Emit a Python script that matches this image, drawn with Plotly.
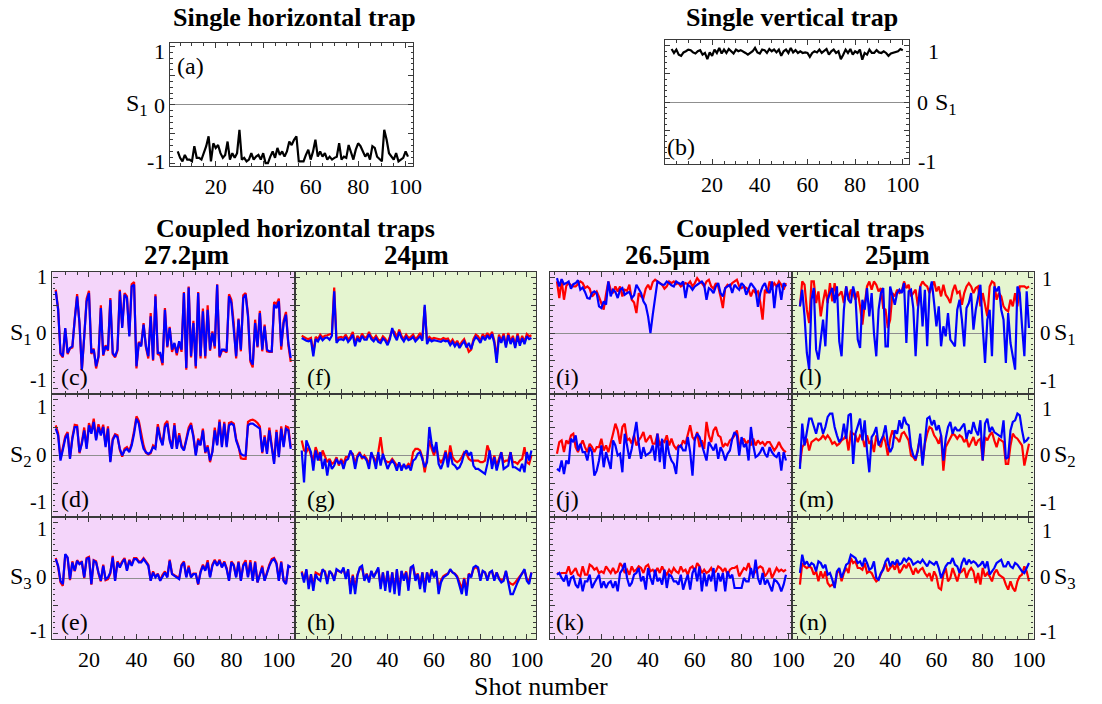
import plotly.graph_objects as go

W, H = 1102, 704
FONT = "Liberation Serif"
FRAME = "#3a3a3a"
PINK = "#F4D5FA"
GREEN = "#E5F5D0"
RED = "#FF0000"
BLUE = "#0000FF"

# ---------------- data (S parameters vs shot number) ----------------
a_S1 = [-0.80,-0.91,-0.97,-0.86,-0.94,-0.94,-0.97,-0.71,-0.91,-0.91,-0.94,-0.83,-0.71,-0.54,-0.97,-0.66,-0.74,-0.69,-0.83,-0.91,
        -0.86,-0.63,-0.94,-0.83,-0.91,-0.83,-0.43,-0.94,-0.91,-0.97,-0.94,-0.83,-0.94,-0.89,-0.86,-0.94,-0.83,-1.00,-1.00,-0.89,
        -0.80,-0.91,-0.74,-0.86,-0.80,-0.89,-0.80,-0.63,-0.69,-0.60,-0.54,-0.97,-0.97,-0.97,-0.86,-0.77,-0.94,-0.80,-0.60,-0.89,
        -0.80,-0.89,-0.83,-0.94,-0.89,-0.94,-0.91,-0.89,-0.66,-0.94,-0.89,-0.91,-0.69,-0.83,-0.94,-0.77,-0.66,-0.71,-0.80,-0.89,
        -0.83,-0.94,-0.71,-0.74,-0.89,-0.94,-0.97,-0.43,-0.60,-0.83,-0.89,-0.94,-0.83,-0.97,-0.94,-0.91,-0.80,-0.89]
b_S1 = [0.94,0.87,0.93,0.84,0.82,0.88,0.90,0.93,0.92,0.88,0.86,0.90,0.92,0.84,0.87,0.76,0.88,0.82,0.93,0.87,
        0.96,0.86,0.93,0.87,0.94,0.90,0.86,0.93,0.90,0.92,0.90,0.87,0.84,0.87,0.90,0.96,0.88,0.86,0.93,0.92,
        0.87,0.94,0.90,0.93,0.88,0.93,0.82,0.90,0.93,0.87,0.96,0.88,0.92,0.87,0.90,0.87,0.88,0.87,0.80,0.87,
        0.90,0.88,0.93,0.87,0.90,0.94,0.84,0.90,0.93,0.87,0.90,0.76,0.84,0.93,0.87,0.94,0.84,0.90,0.87,0.93,
        0.75,0.87,0.84,0.93,0.87,0.87,0.92,0.88,0.87,0.90,0.87,0.82,0.86,0.87,0.88,0.90,0.94,0.92]

# Coupled horizontal traps, 27.2 um
c_red = [0.78,0.44,-0.38,-0.44,0.08,-0.38,-0.28,-0.26,0.26,0.70,0.17,-0.68,-0.07,0.62,0.76,-0.38,-0.28,-0.64,-0.44,0.50,
         -0.41,-0.22,-0.32,0.63,-0.38,-0.44,-0.32,0.78,0.12,0.72,0.66,-0.04,0.88,0.92,-0.64,-0.16,-0.22,0.18,-0.26,-0.46,
         0.36,-0.50,0.70,-0.38,-0.40,-0.58,0.45,-0.26,0.11,-0.34,-0.20,-0.40,-0.17,-0.34,0.74,-0.66,0.84,-0.44,0.22,-0.64,
         0.74,-0.46,0.44,-0.46,0.50,-0.32,0.03,-0.28,0.88,-0.44,-0.32,-0.32,-0.35,0.70,0.60,0.18,-0.46,0.26,-0.33,0.68,
         0.72,0.34,-0.52,-0.62,0.24,-0.26,0.40,-0.33,0.15,-0.33,-0.34,-0.34,0.56,0.52,0.62,-0.30,0.22,0.38,-0.22,-0.52]
c_blue = [0.75,0.42,-0.36,-0.42,0.09,-0.36,-0.27,-0.24,0.24,0.66,0.18,-0.66,-0.06,0.57,0.72,-0.36,-0.30,-0.60,-0.42,0.45,
          -0.39,-0.24,-0.30,0.60,-0.36,-0.42,-0.30,0.75,0.09,0.69,0.63,-0.06,0.84,0.87,-0.60,-0.18,-0.24,0.15,-0.24,-0.42,
          0.30,-0.48,0.66,-0.36,-0.36,-0.54,0.42,-0.24,0.09,-0.30,-0.18,-0.36,-0.15,-0.30,0.72,-0.63,0.82,-0.42,0.18,-0.60,
          0.72,-0.42,0.39,-0.42,0.42,-0.30,0.00,-0.24,0.87,-0.42,-0.30,-0.30,-0.33,0.66,0.54,0.12,-0.42,0.24,-0.30,0.63,
          0.69,0.30,-0.48,-0.57,0.18,-0.24,0.36,-0.30,0.12,-0.30,-0.33,-0.33,0.51,0.45,0.57,-0.24,0.18,0.33,-0.18,-0.45]
d_red = [0.54,0.40,-0.06,0.16,0.34,0.42,-0.04,0.33,0.55,0.54,0.04,0.24,0.50,0.15,0.58,0.42,0.66,0.30,0.56,0.40,
         0.55,0.18,0.52,-0.10,0.30,0.38,0.36,0.10,-0.02,0.12,0.15,0.08,0.22,0.44,0.70,0.62,0.36,0.18,0.05,0.02,
         0.04,0.18,0.14,0.56,0.34,0.20,0.56,0.62,0.30,0.14,0.58,0.15,0.40,0.18,0.10,0.30,0.50,0.58,0.36,0.02,
         0.30,0.20,0.48,0.04,0.18,-0.12,0.08,0.50,0.20,0.64,0.18,0.60,0.18,0.58,0.60,0.57,0.30,0.17,-0.05,-0.06,
         -0.06,0.60,0.63,0.64,0.62,0.58,0.52,0.04,0.36,0.06,0.50,0.18,-0.12,0.46,0.00,0.52,0.18,0.52,0.50,0.15]
d_blue = [0.48,0.36,-0.09,0.12,0.30,0.39,-0.06,0.30,0.51,0.51,0.06,0.21,0.45,0.12,0.54,0.39,0.60,0.27,0.51,0.36,
          0.51,0.15,0.48,-0.12,0.27,0.36,0.33,0.12,0.00,0.09,0.12,0.06,0.18,0.39,0.66,0.57,0.30,0.12,0.06,0.03,
          0.06,0.15,0.12,0.51,0.30,0.18,0.51,0.57,0.27,0.12,0.54,0.12,0.36,0.15,0.09,0.27,0.45,0.54,0.33,0.00,
          0.27,0.18,0.45,0.06,0.15,-0.09,0.06,0.45,0.18,0.60,0.15,0.57,0.15,0.54,0.57,0.54,0.27,0.15,0.03,0.00,
          0.00,0.54,0.57,0.57,0.54,0.51,0.48,0.06,0.33,0.03,0.45,0.15,-0.15,0.42,-0.03,0.48,0.15,0.48,0.45,0.12]
e_red = [0.36,0.20,-0.08,-0.14,0.42,0.36,-0.04,0.30,0.12,0.32,0.26,0.30,0.00,0.36,0.38,-0.12,0.32,0.30,0.08,-0.06,
         0.24,-0.04,-0.02,0.08,0.40,-0.04,0.30,0.22,0.30,0.36,0.15,0.33,0.24,0.36,0.36,0.30,0.30,0.36,0.30,0.24,
         -0.04,0.12,0.02,0.08,-0.04,0.06,0.12,0.02,0.33,0.08,0.05,0.02,0.00,0.24,0.30,0.02,0.22,0.02,0.08,0.08,
         -0.12,0.12,0.24,0.15,0.32,0.02,0.24,0.33,0.24,0.33,0.20,0.30,0.18,-0.04,0.30,0.24,0.02,0.30,-0.04,0.24,
         0.32,0.02,0.32,-0.04,0.30,-0.08,0.08,0.22,-0.04,0.12,0.24,0.34,0.36,0.28,-0.04,0.30,-0.04,-0.10,0.20,0.20]
e_blue = [0.34,0.22,-0.05,-0.11,0.43,0.37,-0.02,0.28,0.13,0.31,0.25,0.28,0.01,0.34,0.37,-0.11,0.31,0.28,0.10,-0.05,
          0.22,-0.02,0.01,0.10,0.37,-0.05,0.28,0.19,0.28,0.34,0.13,0.31,0.22,0.34,0.34,0.28,0.28,0.34,0.28,0.22,
          -0.05,0.10,0.01,0.07,-0.05,0.04,0.10,0.01,0.31,0.07,0.04,0.01,-0.02,0.22,0.28,0.01,0.19,0.01,0.07,0.07,
          -0.11,0.10,0.22,0.13,0.28,0.01,0.22,0.31,0.22,0.31,0.19,0.28,0.16,-0.05,0.28,0.22,0.01,0.28,-0.05,0.22,
          0.28,0.01,0.28,-0.05,0.28,-0.08,0.07,0.19,-0.05,0.10,0.22,0.31,0.34,0.25,-0.05,0.28,-0.05,-0.11,0.22,0.19]

# Coupled horizontal traps, 24 um
f_red = [-0.05,-0.08,-0.10,-0.11,-0.09,-0.36,-0.07,-0.11,-0.03,-0.08,-0.05,-0.04,-0.02,-0.01,0.82,
         -0.14,-0.08,-0.07,-0.09,-0.03,-0.12,-0.07,0.02,-0.20,-0.05,-0.12,-0.01,-0.08,
         -0.08,0.02,-0.07,-0.11,-0.05,-0.12,-0.14,-0.06,-0.10,-0.18,-0.07,0.05,
         0.02,-0.09,0.06,-0.05,-0.11,-0.03,-0.09,-0.07,-0.03,-0.11,-0.07,0.00,-0.10,0.47,
         -0.14,-0.07,-0.11,-0.09,-0.10,-0.11,-0.12,-0.09,-0.11,-0.10,
         -0.18,-0.12,-0.20,-0.14,-0.23,-0.16,-0.11,-0.22,-0.34,-0.30,
         -0.11,-0.03,-0.06,-0.14,-0.02,-0.08,0.00,-0.07,0.02,-0.14,-0.45,
         -0.03,-0.14,-0.01,-0.22,0.00,-0.16,-0.05,-0.23,-0.01,-0.19,-0.05,-0.16,-0.02,-0.06,-0.04]
f_blue = [-0.09,-0.12,-0.14,-0.15,-0.13,-0.42,-0.11,-0.15,-0.07,-0.13,-0.09,-0.08,-0.12,-0.05,0.75,
          -0.18,-0.12,-0.11,-0.13,-0.07,-0.16,-0.11,-0.03,-0.24,-0.09,-0.16,-0.05,-0.12,
          -0.12,-0.02,-0.11,-0.15,-0.09,-0.16,-0.18,-0.10,-0.14,-0.22,-0.11,0.09,
          -0.05,-0.13,0.02,-0.09,-0.15,-0.07,-0.13,-0.11,-0.07,-0.15,-0.11,-0.06,-0.14,0.51,
          -0.20,-0.11,-0.15,-0.13,-0.14,-0.15,-0.16,-0.13,-0.15,-0.14,
          -0.22,-0.16,-0.24,-0.18,-0.27,-0.20,-0.15,-0.26,-0.18,-0.29,
          -0.15,-0.07,-0.11,-0.18,-0.06,-0.13,-0.04,-0.11,-0.02,-0.18,-0.54,
          -0.07,-0.18,-0.05,-0.26,-0.04,-0.20,-0.09,-0.27,-0.05,-0.23,-0.09,-0.20,-0.06,-0.11,-0.09]
g_red = [0.27,0.09,0.06,0.15,0.00,-0.09,0.15,0.03,-0.09,0.09,0.00,-0.12,-0.06,-0.15,-0.12,-0.03,-0.18,-0.06,-0.15,-0.03,
         -0.03,0.06,0.03,-0.15,0.00,0.06,-0.06,0.00,-0.06,-0.15,0.03,-0.03,-0.12,0.06,0.33,0.00,-0.09,-0.12,-0.12,-0.06,
         -0.12,-0.18,-0.15,-0.21,-0.18,-0.21,-0.15,-0.18,0.06,0.12,0.12,0.09,-0.03,-0.30,-0.06,0.27,0.12,0.00,0.15,-0.06,
         -0.12,-0.06,0.09,-0.12,0.18,-0.03,-0.09,-0.12,-0.09,-0.03,0.06,0.03,-0.06,-0.09,-0.09,-0.09,-0.09,-0.12,-0.12,-0.09,
         0.18,0.06,-0.15,0.00,-0.18,-0.06,0.06,-0.12,-0.09,-0.09,0.06,-0.12,-0.12,-0.15,-0.09,-0.06,0.15,-0.12,-0.15,0.00]
g_blue = [0.09,-0.48,0.27,0.18,0.06,-0.27,0.09,-0.09,0.06,-0.24,-0.06,-0.36,-0.09,-0.24,-0.18,-0.06,-0.15,-0.09,-0.24,-0.09,
          -0.06,0.09,0.00,-0.24,-0.03,0.03,-0.03,-0.03,-0.09,-0.24,0.06,-0.06,-0.24,0.06,-0.18,0.03,-0.12,-0.24,-0.15,-0.09,
          -0.15,-0.27,-0.12,-0.27,-0.15,-0.24,-0.18,-0.27,-0.09,-0.06,0.03,0.06,-0.06,-0.21,-0.12,0.51,0.21,0.06,0.24,-0.15,
          -0.24,-0.12,0.06,-0.21,0.06,-0.15,-0.18,-0.24,-0.21,-0.12,0.03,0.09,0.00,0.06,-0.18,-0.24,-0.24,-0.27,-0.30,-0.33,
          -0.15,0.09,-0.24,-0.03,-0.27,-0.12,0.06,-0.24,-0.21,-0.18,0.06,-0.21,-0.21,-0.24,-0.27,-0.15,-0.30,0.06,-0.09,0.09]
h_red = [0.12,-0.04,0.14,-0.12,0.06,-0.14,0.10,0.08,0.05,0.14,0.12,-0.06,0.12,0.08,-0.02,0.14,0.12,0.10,0.16,0.02,
         0.14,-0.20,0.06,-0.18,0.06,0.16,0.18,-0.02,0.08,-0.04,0.12,0.03,0.10,0.16,-0.14,0.10,-0.16,0.12,-0.18,0.10,
         -0.20,0.14,-0.22,0.12,0.00,0.12,-0.14,0.18,0.20,0.02,0.08,-0.12,0.10,-0.18,0.10,-0.02,0.14,0.04,0.12,-0.20,
         -0.04,0.03,0.06,0.08,0.14,0.10,0.08,0.03,-0.08,-0.20,0.00,-0.22,0.08,0.03,0.16,0.20,0.16,-0.02,0.12,0.10,
         -0.02,0.10,0.12,-0.02,0.10,0.00,-0.04,-0.02,0.12,-0.06,-0.10,-0.12,-0.08,-0.02,0.03,0.10,0.14,-0.02,-0.06,0.10]
h_blue = [0.10,-0.08,0.16,-0.20,0.07,-0.23,0.07,-0.02,-0.05,0.16,0.10,-0.11,0.13,0.07,-0.05,0.16,0.13,0.10,0.19,-0.02,
          0.16,-0.29,0.04,-0.29,0.04,0.19,0.22,-0.05,0.07,-0.08,0.13,0.01,0.10,0.19,-0.20,0.10,-0.23,0.13,-0.26,0.10,
          -0.29,0.16,-0.32,0.13,-0.05,0.10,-0.23,0.19,0.22,-0.05,0.07,-0.20,0.10,-0.26,0.10,-0.08,0.16,0.01,0.13,-0.29,
          -0.08,0.01,0.04,0.07,0.16,0.10,0.07,0.01,-0.14,-0.29,-0.02,-0.32,0.07,0.01,0.19,0.22,0.19,-0.05,0.13,0.10,
          -0.05,0.10,0.13,-0.05,0.10,-0.02,-0.08,-0.05,0.13,-0.11,-0.29,-0.29,-0.17,-0.08,0.01,0.10,0.16,-0.05,-0.11,0.10]

# Coupled vertical traps, 26.5 um
i_red = [0.93,0.63,0.96,0.60,0.85,0.90,0.86,0.84,0.84,0.88,0.93,0.90,0.81,0.84,0.80,0.66,0.70,0.75,0.65,0.54,
         0.42,0.70,0.93,0.78,0.72,0.84,0.75,0.84,0.66,0.78,0.76,0.87,0.60,0.55,0.36,0.72,0.66,0.63,0.80,0.87,
         0.78,0.92,0.96,0.93,0.90,0.87,0.80,0.84,0.93,0.90,0.93,0.88,0.90,0.84,0.87,0.90,0.88,0.93,0.84,0.90,
         0.99,0.93,0.90,0.84,0.93,0.96,0.84,0.80,0.90,0.84,0.66,0.45,0.81,0.87,0.84,0.90,0.93,0.96,0.84,0.81,
         0.84,0.81,0.78,0.66,0.78,0.72,0.75,0.55,0.24,0.78,0.72,0.93,0.81,0.90,0.84,0.93,0.87,0.78,0.90]
i_blue = [0.99,0.84,0.97,0.88,0.90,0.93,0.80,0.88,0.90,0.95,0.78,0.82,0.74,0.63,0.62,0.72,0.75,0.72,0.48,0.45,
          0.57,0.51,0.93,0.66,0.78,0.74,0.63,0.78,0.81,0.69,0.72,0.74,0.63,0.68,0.87,0.78,0.72,0.57,0.50,0.30,
          0.00,0.33,0.66,0.93,0.90,0.87,0.87,0.93,0.90,0.86,0.84,0.93,0.90,0.88,0.93,0.63,0.87,0.84,0.78,0.84,
          0.87,0.90,0.93,0.87,0.60,0.81,0.78,0.72,0.84,0.90,0.72,0.66,0.81,0.84,0.87,0.72,0.87,0.82,0.78,0.90,
          0.85,0.69,0.81,0.90,0.84,0.78,0.47,0.72,0.84,0.90,0.76,0.72,0.93,0.45,0.84,0.87,0.60,0.90,0.84]
j_red = [0.03,0.24,0.27,0.06,0.27,0.21,0.36,0.39,0.15,0.06,0.18,0.27,0.15,0.06,0.21,0.15,0.06,0.15,0.15,0.30,
         0.09,0.18,0.06,0.21,0.39,0.57,0.45,0.21,0.51,0.57,0.27,0.30,0.21,0.36,0.18,0.27,0.33,0.42,0.24,0.30,
         0.36,0.21,0.21,0.39,0.18,0.27,0.24,0.36,0.18,0.30,0.18,0.12,0.18,0.15,0.27,0.21,0.36,0.54,0.33,0.27,
         0.42,0.15,0.27,0.12,0.60,0.36,0.24,0.45,0.51,0.36,0.33,0.15,0.21,0.18,0.27,0.30,0.36,0.45,0.18,0.24,
         0.30,0.21,0.27,0.18,0.30,0.18,0.27,0.21,0.24,0.18,0.24,0.24,0.15,0.09,0.15,0.24,0.15,0.09,0.06]
j_blue = [-0.24,-0.27,-0.09,-0.33,-0.09,-0.15,0.30,0.24,0.36,0.09,0.21,0.06,0.06,-0.09,0.15,0.06,-0.36,-0.27,-0.09,0.18,
          -0.21,0.06,-0.09,-0.24,0.27,0.18,0.00,0.03,-0.30,0.39,0.18,-0.06,0.12,0.39,0.60,0.21,-0.06,0.15,0.00,0.03,
          0.06,0.18,-0.09,0.39,-0.12,0.30,-0.24,0.27,0.03,-0.09,-0.15,-0.33,0.15,0.18,0.09,0.09,0.33,0.06,-0.36,0.30,
          0.39,0.33,0.18,0.06,-0.09,0.24,0.15,0.09,0.21,-0.06,0.15,0.06,-0.09,0.03,0.09,0.30,0.42,0.36,0.00,0.33,
          0.15,0.21,-0.09,0.51,0.18,-0.03,0.00,0.06,0.15,0.03,-0.03,0.15,0.06,0.00,-0.03,0.06,-0.27,0.06,-0.09]
k_red = [0.09,0.07,0.09,0.09,0.09,0.21,0.06,0.12,0.18,0.06,0.03,0.21,0.06,0.06,0.24,0.21,0.15,0.18,0.09,0.12,
         0.09,0.21,0.15,0.09,0.18,0.09,0.12,0.27,0.21,0.09,0.15,0.06,0.21,0.12,0.15,0.21,0.18,0.09,0.21,0.24,
         0.12,0.15,0.09,0.18,0.09,0.21,0.12,0.06,0.15,0.09,0.18,0.12,0.09,0.21,0.12,0.15,0.06,0.18,0.21,0.12,
         0.27,0.21,0.09,0.15,0.09,0.12,0.18,0.09,0.12,0.21,0.18,0.12,0.18,0.06,0.15,0.18,0.18,0.21,0.03,0.12,
         0.18,0.15,0.27,0.12,0.06,0.12,0.18,0.21,0.18,0.03,0.09,0.18,0.00,0.09,0.18,0.12,0.15,0.12,0.15]
k_blue = [0.06,0.09,0.00,-0.06,0.06,-0.15,0.00,0.03,-0.12,-0.18,0.00,-0.24,-0.06,-0.06,0.06,-0.18,-0.09,0.00,0.06,-0.18,
          -0.06,-0.18,-0.09,-0.06,-0.18,-0.06,-0.24,0.09,0.15,0.27,0.00,-0.15,-0.09,0.06,0.09,0.18,-0.06,0.03,-0.21,0.18,
          0.00,-0.12,0.15,-0.06,0.00,-0.12,0.15,-0.18,0.06,0.03,-0.06,-0.06,-0.12,0.06,-0.21,-0.06,0.06,-0.21,0.09,0.18,
          -0.06,0.21,-0.24,0.09,-0.15,0.06,-0.06,0.18,-0.24,0.09,-0.06,0.09,-0.24,0.12,0.00,0.06,-0.18,-0.18,-0.18,-0.18,
          0.00,-0.06,-0.06,0.18,0.00,0.33,0.00,-0.12,0.09,-0.12,-0.03,-0.12,-0.24,-0.03,-0.06,-0.12,-0.24,-0.12,0.06]

# Coupled vertical traps, 25 um
l_red = [0.48,0.93,0.87,0.42,0.18,0.93,0.93,0.54,0.75,0.30,0.57,0.78,0.54,0.90,0.57,0.90,0.66,0.69,0.75,0.54,
         0.84,0.60,0.78,0.72,0.60,0.75,0.48,0.15,0.51,0.84,0.93,0.78,0.93,0.87,0.75,0.81,0.45,0.42,0.09,0.24,
         0.72,0.66,0.78,0.72,0.75,0.93,0.81,0.87,0.66,0.72,0.78,0.48,0.84,0.93,0.87,0.84,0.72,0.84,0.93,0.75,
         0.84,0.66,0.87,0.69,0.63,0.54,0.75,0.87,0.72,0.75,0.51,0.72,0.84,0.90,0.84,0.72,0.81,0.84,0.48,0.72,
         0.48,0.30,0.84,0.93,0.90,0.60,0.72,0.66,0.48,0.42,0.39,0.60,0.48,0.72,0.48,0.84,0.84,0.84,0.81,0.84]
l_blue = [0.48,0.78,0.30,-0.36,-0.66,0.60,0.81,-0.30,-0.48,-0.12,0.24,-0.24,0.60,0.72,0.81,0.54,0.84,-0.15,-0.42,0.42,
          0.84,0.60,0.54,0.84,0.66,-0.12,-0.27,0.60,0.42,0.81,0.30,0.72,0.00,-0.42,0.42,0.72,0.81,-0.24,-0.24,0.84,
          0.66,0.51,0.72,0.78,0.72,0.90,-0.18,0.75,0.78,0.45,-0.42,0.42,0.84,0.12,0.78,-0.24,0.75,0.93,0.54,0.12,
          0.48,-0.24,0.12,-0.06,0.36,-0.12,-0.18,-0.24,0.42,0.60,0.24,-0.24,0.45,0.54,0.72,0.06,0.42,0.66,0.87,0.12,
          -0.54,0.24,0.42,-0.42,0.84,0.75,0.84,0.42,0.24,-0.54,0.36,-0.18,-0.42,-0.66,0.84,0.72,0.12,-0.42,0.75,0.09]
m_red = [-0.15,0.15,0.21,0.30,0.09,0.24,0.27,0.30,0.27,0.30,0.36,0.30,0.36,0.30,0.21,0.24,0.18,0.21,0.27,0.30,
         0.36,0.09,0.42,0.39,0.36,0.24,0.36,0.33,0.15,0.36,0.21,0.27,0.06,0.36,0.21,0.15,0.36,0.24,0.00,0.30,
         0.45,0.33,0.30,0.24,0.39,0.42,0.33,0.27,0.00,-0.03,-0.09,0.15,0.33,-0.15,0.21,0.39,0.51,0.48,0.36,0.30,
         0.21,0.36,-0.27,0.15,0.24,0.30,0.39,0.36,0.30,0.36,0.33,0.24,0.30,0.15,0.24,0.33,0.18,0.27,0.30,-0.09,
         0.33,0.27,0.36,0.42,0.27,0.15,0.30,0.27,0.24,-0.15,-0.15,0.18,0.39,0.33,0.30,0.24,0.18,-0.18,0.03,0.21]
m_blue = [-0.24,0.57,0.18,0.45,0.66,0.66,0.51,0.39,0.57,0.57,0.39,0.51,0.69,0.75,0.75,0.51,0.36,0.24,0.30,0.57,
          0.30,0.72,0.75,-0.15,0.39,0.51,0.66,0.27,0.63,0.09,-0.30,0.33,0.39,0.51,0.18,0.27,0.36,0.54,0.21,0.06,
          0.15,0.45,0.39,0.63,0.48,0.69,0.57,0.54,0.15,0.00,-0.06,0.09,0.39,-0.18,0.27,0.66,0.69,0.54,0.63,0.45,
          0.54,0.36,-0.09,0.30,0.51,0.60,0.39,0.51,0.45,0.45,0.51,0.57,0.30,0.45,0.39,0.60,0.45,0.36,0.63,-0.09,
          0.57,0.66,0.42,0.51,0.42,0.39,0.36,0.33,0.63,-0.06,-0.03,0.45,0.60,0.63,0.75,0.72,0.45,0.24,0.27,0.33]
n_red = [-0.12,0.27,0.21,0.18,0.21,0.18,0.06,0.12,-0.06,0.12,0.00,0.12,-0.09,-0.15,-0.12,-0.15,0.09,0.15,-0.06,0.09,
         0.18,0.09,0.36,0.27,0.30,0.18,0.18,0.15,0.27,0.09,0.12,0.09,0.00,-0.06,-0.03,0.06,0.18,0.27,0.12,0.18,
         0.24,0.15,0.27,0.09,0.15,0.24,0.18,0.27,0.15,0.06,0.18,0.09,0.15,0.18,0.09,0.03,0.09,-0.06,0.12,0.03,
         -0.18,-0.21,0.06,0.18,-0.06,0.00,0.18,0.06,-0.06,0.09,0.12,0.18,0.00,0.12,0.18,0.12,-0.09,0.09,-0.12,0.18,
         0.03,0.09,0.03,-0.06,0.09,0.15,0.06,0.03,0.00,-0.12,-0.21,-0.06,-0.18,-0.24,-0.06,0.03,0.06,0.21,0.12,-0.06]
n_blue = [0.09,0.42,0.24,0.30,0.21,0.27,0.24,0.12,0.30,0.27,0.18,0.24,0.06,0.09,-0.03,-0.18,0.12,0.18,0.00,0.12,
          0.24,0.27,0.42,0.39,0.36,0.27,0.30,0.21,0.36,0.27,0.15,0.18,0.30,0.00,-0.03,0.09,0.15,0.30,0.36,0.21,
          0.30,0.24,0.33,0.24,0.27,0.36,0.30,0.36,0.33,0.24,0.27,0.30,0.27,0.33,0.27,0.21,0.30,0.27,0.24,0.30,
          0.18,0.00,0.12,0.21,0.27,0.27,0.36,0.24,0.21,0.09,0.27,0.36,0.24,0.33,0.27,0.30,0.27,0.21,0.24,0.30,
          0.18,0.30,0.06,0.12,0.18,0.27,0.30,0.33,0.21,0.21,0.30,0.21,0.18,0.27,0.24,0.18,0.12,0.09,0.18,0.27]

# first shot number plotted in each column of panels
first_shot = {"a": 4, "b": 3, "col1": 6, "col2": 3, "col3": 1, "col4": 1}
x_ticks = [20, 40, 60, 80, 100]

# ---------------- layout geometry (pixels) ----------------
def fx(p):
    return p / W

def fy(p):
    return 1 - p / H

cols = [(53, 298), (298, 542), (556, 801), (801, 1045)]
rows = [(272, 394), (394, 517), (517, 639)]
col_xrange = [(4.6, 106.7), (0, 104), (-2, 101.7), (-2.3, 102)]
col_bg = [PINK, GREEN, PINK, GREEN]
col_key = ["col1", "col2", "col3", "col4"]

panels = [
    dict(lab="(a)", box=(172, 418, 43, 166), xr=(0.8, 103.3), yr=(-1.05, 1.06), bg=None,
         series=[(a_S1, "black")], start=first_shot["a"], xlab=True, labpos=(177, 66)),
    dict(lab="(b)", box=(672, 919, 40, 164), xr=(0.1, 102.6), yr=(-1.1, 1.1), bg=None,
         series=[(b_S1, "black")], start=first_shot["b"], xlab=True, labpos=(672, 147)),
]
grid = [
    [(c_red, c_blue), (d_red, d_blue), (e_red, e_blue)],
    [(f_red, f_blue), (g_red, g_blue), (h_red, h_blue)],
    [(i_red, i_blue), (j_red, j_blue), (k_red, k_blue)],
    [(l_red, l_blue), (m_red, m_blue), (n_red, n_blue)],
]
letters = [["(c)", "(d)", "(e)"], ["(f)", "(g)", "(h)"], ["(i)", "(j)", "(k)"], ["(l)", "(m)", "(n)"]]
lab_x = [60, 308, 560, 806]
lab_y = [377, 499, 622]
for ci in range(4):
    for ri in range(3):
        red, blue = grid[ci][ri]
        panels.append(dict(lab=letters[ci][ri], box=(cols[ci][0], cols[ci][1], rows[ri][0], rows[ri][1]),
                           xr=col_xrange[ci], yr=(-1.1, 1.1), bg=col_bg[ci],
                           series=[(red, RED), (blue, BLUE)], start=first_shot[col_key[ci]],
                           xlab=(ri == 2), labpos=(lab_x[ci], lab_y[ri])))

fig = go.Figure()
layout = dict(width=W, height=H, margin=dict(l=0, r=0, t=0, b=0), autosize=False,
              paper_bgcolor="white", plot_bgcolor="white", showlegend=False,
              font=dict(family=FONT, color="black"))
shapes = []
annotations = []

for k, p in enumerate(panels, start=1):
    sfx = "" if k == 1 else str(k)
    x0, x1, y0, y1 = p["box"]
    layout["xaxis" + sfx] = dict(
        domain=[fx(x0), fx(x1)], range=list(p["xr"]), anchor="y" + sfx,
        showline=True, mirror="allticks", linecolor=FRAME, linewidth=1.3,
        ticks="inside", tickmode="array", tickvals=x_ticks, ticklen=5, tickcolor=FRAME, tickwidth=1,
        minor=dict(tickmode="linear", tick0=0, dtick=5, ticks="inside", ticklen=2.5, tickcolor=FRAME),
        showticklabels=p["xlab"], tickfont=dict(family=FONT, size=22, color="black"),
        showgrid=False, zeroline=False)
    layout["yaxis" + sfx] = dict(
        domain=[fy(y1), fy(y0)], range=list(p["yr"]), anchor="x" + sfx,
        showline=True, mirror="allticks", linecolor=FRAME, linewidth=1.3,
        ticks="inside", tickmode="linear", tick0=0, dtick=0.5, ticklen=5, tickcolor=FRAME, tickwidth=1,
        minor=dict(tickmode="linear", tick0=0, dtick=0.1, ticks="inside", ticklen=2.5, tickcolor=FRAME),
        showticklabels=False, showgrid=False,
        zeroline=True, zerolinecolor="#8f8f8f", zerolinewidth=1)
    if p["bg"]:
        shapes.append(dict(type="rect", xref="x" + sfx + " domain", yref="y" + sfx + " domain",
                           x0=0, x1=1, y0=0, y1=1, fillcolor=p["bg"], line=dict(width=0), layer="below"))
    for vals, col in p["series"]:
        xs = list(range(p["start"], p["start"] + len(vals)))
        fig.add_trace(go.Scatter(x=xs, y=vals, mode="lines", line=dict(color=col, width=2.2),
                                 xaxis="x" + sfx, yaxis="y" + sfx, hoverinfo="skip"))
    lx, ly = p["labpos"]
    annotations.append(dict(text=p["lab"], x=fx(lx), y=fy(ly), xref="paper", yref="paper",
                            xanchor="left", yanchor="middle", showarrow=False,
                            font=dict(family=FONT, size=24, color="black")))

def txt(s, x, y, size=22, xa="center", bold=False):
    annotations.append(dict(text=("<b>%s</b>" % s) if bold else s, x=fx(x), y=fy(y),
                            xref="paper", yref="paper", xanchor=xa, yanchor="middle",
                            showarrow=False, borderpad=0,
                            font=dict(family=FONT, size=size, color="black")))

# headings
txt("Single horizontal trap", 298, 17, 26, bold=True)
txt("Single vertical trap", 801, 17, 26, bold=True)
txt("Coupled horizontal traps", 299, 228, 26, bold=True)
txt("Coupled vertical traps", 809, 228, 26, bold=True)
txt("27.2μm", 189, 255, 27, bold=True)
txt("24μm", 421, 255, 27, bold=True)
txt("26.5μm", 675, 255, 27, bold=True)
txt("25μm", 907, 255, 27, bold=True)
txt("Shot number", 547, 686, 26)

# y labels of the single-trap panels
txt("1", 168, 52, 22, "right")
txt("0", 168, 105, 22, "right")
txt("-1", 168, 161, 22, "right")
txt("S<sub>1</sub>", 151, 105, 24, "right")
txt("1", 937, 52, 22, "left")
txt("0", 926, 102, 22, "left")
txt("-1", 927, 161, 22, "left")
txt("S<sub>1</sub>", 944, 104, 24, "left")

# y labels of the coupled-trap grid (labels next to row boundaries pulled apart)
row_zero = [333, 455, 577]
top_off = [-56, -48, -48]
bot_off = [47, 47, 54]
for ri, yc in enumerate(row_zero):
    s = "S<sub>%d</sub>" % (ri + 1)
    txt("1", 49, yc + top_off[ri], 20, "right")
    txt("0", 49, yc, 21, "right")
    txt("-1", 49, yc + bot_off[ri], 20, "right")
    txt(s, 33, yc + 1, 24, "right")
    txt("1", 1052, yc + top_off[ri] + 2, 20, "left")
    txt("0", 1050, yc, 21, "left")
    txt("-1", 1050, yc + bot_off[ri] + 1, 20, "left")
    txt(s, 1065, yc + 1, 24, "left")

layout["shapes"] = shapes
layout["annotations"] = annotations
fig.update_layout(**layout)
fig.write_html("out.html")
